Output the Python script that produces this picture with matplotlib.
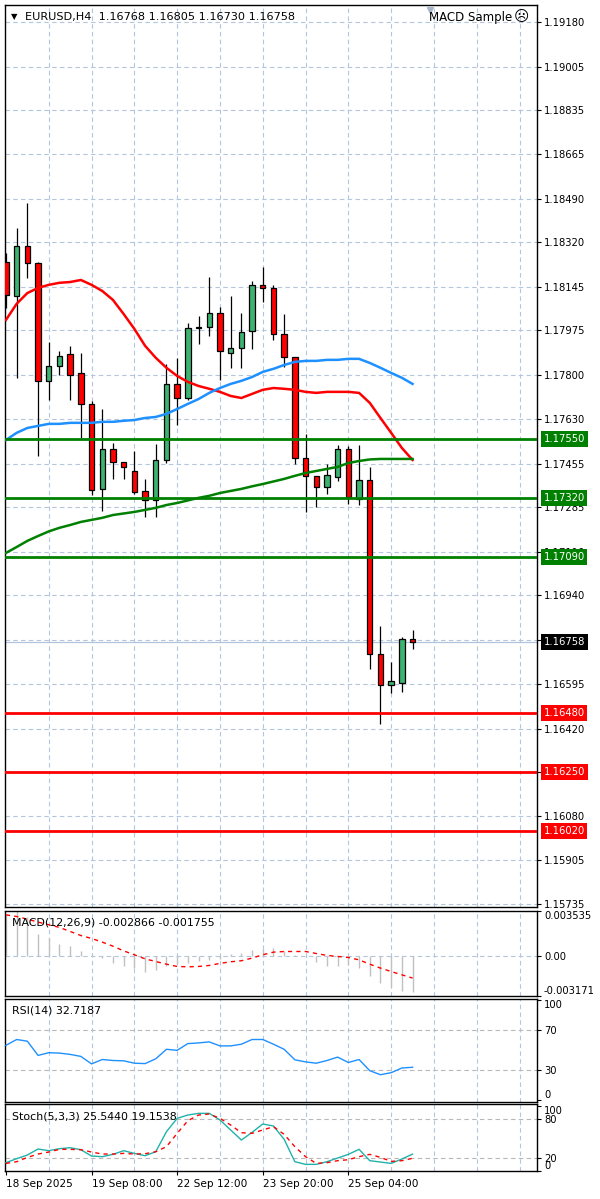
import numpy as np
import matplotlib.pyplot as plt
import matplotlib.transforms as mtransforms

plt.rcParams['font.family'] = ['DejaVu Sans']

# ---- data ----
opens = [1.18243, 1.18110, 1.18305, 1.18239, 1.17778, 1.17836, 1.17883, 1.17809, 1.17688, 1.17356,
         1.17512, 1.17461, 1.17426, 1.17348, 1.17313, 1.17469, 1.17766, 1.17711, 1.17985, 1.17989,
         1.18043, 1.17887, 1.17907, 1.17973, 1.18153, 1.18141, 1.17961, 1.17872, 1.17477, 1.17407,
         1.17364, 1.17403, 1.17512, 1.17317, 1.17391, 1.16711, 1.16590, 1.16598, 1.16768]
highs = [1.18278, 1.18375, 1.18473, 1.18243, 1.17930, 1.17895, 1.17915, 1.17887, 1.17700, 1.17668,
         1.17536, 1.17461, 1.17504, 1.17395, 1.17532, 1.17844, 1.17868, 1.18004, 1.18032, 1.18184,
         1.18067, 1.18110, 1.18043, 1.18168, 1.18223, 1.18153, 1.18039, 1.17872, 1.17571, 1.17407,
         1.17454, 1.17528, 1.17524, 1.17528, 1.17442, 1.16821, 1.16680, 1.16778, 1.16805]
lows = [1.18063, 1.17790, 1.18180, 1.17485, 1.17704, 1.17801, 1.17704, 1.17555, 1.17333, 1.17270,
        1.17395, 1.17395, 1.17336, 1.17247, 1.17247, 1.17457, 1.17606, 1.17704, 1.17922, 1.17954,
        1.17782, 1.17829, 1.17829, 1.17903, 1.18086, 1.17938, 1.17832, 1.17454, 1.17266, 1.17286,
        1.17336, 1.17387, 1.17297, 1.17293, 1.16653, 1.16438, 1.16559, 1.16563, 1.16730]
closes = [1.18114, 1.18305, 1.18239, 1.17778, 1.17836, 1.17875, 1.17801, 1.17688, 1.17352, 1.17512,
          1.17461, 1.17442, 1.17344, 1.17313, 1.17469, 1.17766, 1.17711, 1.17985, 1.17989, 1.18043,
          1.17895, 1.17907, 1.17969, 1.18153, 1.18141, 1.17961, 1.17872, 1.17477, 1.17407, 1.17364,
          1.17411, 1.17512, 1.17325, 1.17391, 1.16711, 1.16590, 1.16606, 1.16770, 1.16758]

ma_red = [1.18016, 1.18079, 1.18121, 1.18141, 1.18153, 1.18161, 1.18164, 1.18172, 1.18153, 1.18129,
          1.18094, 1.18039, 1.17981, 1.17915, 1.17868, 1.17829, 1.17797, 1.17774, 1.17758, 1.17747,
          1.17735, 1.17719, 1.17711, 1.17727, 1.17743, 1.17750, 1.17747, 1.17743, 1.17735, 1.17731,
          1.17735, 1.17735, 1.17735, 1.17731, 1.17692, 1.17633, 1.17575, 1.17516, 1.17469]
ma_blue = [1.17547, 1.17575, 1.17594, 1.17602, 1.17610, 1.17610, 1.17614, 1.17614, 1.17614, 1.17618,
           1.17618, 1.17622, 1.17625, 1.17633, 1.17637, 1.17649, 1.17668, 1.17688, 1.17707, 1.17731,
           1.17750, 1.17766, 1.17778, 1.17793, 1.17813, 1.17825, 1.17840, 1.17852, 1.17856, 1.17856,
           1.17860, 1.17860, 1.17864, 1.17864, 1.17848, 1.17829, 1.17809, 1.17790, 1.17766]
ma_green = [1.17106, 1.17129, 1.17153, 1.17172, 1.17190, 1.17204, 1.17215, 1.17227, 1.17235, 1.17243,
            1.17254, 1.17260, 1.17266, 1.17274, 1.17282, 1.17293, 1.17301, 1.17311, 1.17321, 1.17329,
            1.17340, 1.17348, 1.17356, 1.17366, 1.17375, 1.17385, 1.17395, 1.17407, 1.17418, 1.17426,
            1.17434, 1.17442, 1.17457, 1.17465, 1.17471, 1.17473, 1.17473, 1.17473, 1.17473]

levels_green = [1.17550, 1.17320, 1.17090]
levels_red = [1.16480, 1.16250, 1.16020]
last_price = 1.16758

price_ticks = [1.19180, 1.19005, 1.18835, 1.18665, 1.18490, 1.18320, 1.18145, 1.17975, 1.17800,
               1.17630, 1.17455, 1.17285, 1.17110, 1.16940, 1.16765, 1.16595, 1.16420, 1.16250,
               1.16080, 1.15905, 1.15735]

macd_main = [0.00323, 0.00350, 0.00310, 0.00171, 0.00139, 0.00092, 0.00074, 0.00034, 0.00008, -0.00018,
             -0.00058, -0.00084, -0.00097, -0.00124, -0.00110, -0.00084, -0.00066, -0.00058, -0.00039, -0.00032,
             -0.00024, 0.00013, 0.00021, 0.00047, 0.00053, 0.00060, 0.00039, 0.00008, -0.00013, -0.00050,
             -0.00084, -0.00084, -0.00071, -0.00097, -0.00163, -0.00216, -0.00250, -0.00275, -0.002866]
macd_signal = [0.00323, 0.00310, 0.00289, 0.00266, 0.00245, 0.00224, 0.00192, 0.00160, 0.00137, 0.00108,
               0.00076, 0.00039, 0.00008, -0.00024, -0.00045, -0.00066, -0.00084, -0.00087, -0.00084, -0.00076,
               -0.00060, -0.00047, -0.00039, -0.00018, 0.00008, 0.00029, 0.00034, 0.00034, 0.00034, 0.00018,
               0.00003, -0.00005, -0.00013, -0.00032, -0.00066, -0.00097, -0.00124, -0.00150, -0.001755]

rsi = [54.7, 60.5, 58.8, 44.6, 47.3, 46.9, 45.6, 43.6, 36.1, 40.5,
       39.5, 39.2, 36.8, 36.4, 41.2, 50.7, 49.7, 56.4, 57.1, 58.1,
       54.1, 54.1, 55.8, 60.5, 60.5, 55.8, 50.7, 40.2, 38.1, 36.8,
       39.5, 42.9, 37.5, 40.5, 29.3, 25.3, 27.3, 32.0, 32.7187]

stoch_main = [12.3, 18.5, 24.2, 33.5, 30.9, 34.0, 35.5, 32.4, 22.6, 21.6,
              25.2, 30.9, 26.7, 23.1, 29.3, 60.4, 81.1, 86.2, 88.8, 88.8,
              78.5, 63.0, 47.4, 59.3, 72.3, 69.2, 48.5, 13.8, 9.7, 9.7,
              13.8, 19.5, 25.2, 33.0, 15.4, 13.3, 11.2, 18.0, 25.544]
stoch_signal = [11.2, 13.8, 20.5, 25.7, 28.8, 33.0, 33.0, 32.4, 28.8, 25.7,
                25.7, 26.7, 25.7, 26.2, 29.3, 37.1, 57.8, 77.4, 86.2, 87.8,
                81.1, 70.7, 58.8, 57.8, 63.0, 68.1, 56.2, 37.1, 21.6, 11.2,
                12.3, 15.4, 16.9, 21.6, 25.2, 20.5, 14.3, 15.4, 19.1538]

date_pos = [0, 8, 16, 24, 32]
date_labels = ['18 Sep 2025', '19 Sep 08:00', '22 Sep 12:00', '23 Sep 20:00', '25 Sep 04:00']

# ---- layout ----
W, H = 600, 1199
fig = plt.figure(figsize=(W / 100, H / 100), dpi=100)
fig.patch.set_facecolor('white')

def panel(top, bottom):
    return fig.add_axes([5 / W, 1 - bottom / H, 532 / W, (bottom - top) / H])

ax = panel(5, 907)
ax_macd = panel(911, 996)
ax_rsi = panel(999, 1102)
ax_sto = panel(1104, 1171)

grid_c = '#b4c6dc'
gray_c = '#b8b8b8'
fs = 7.2
fs_lbl = 7.9
x = np.arange(len(opens))
xlim = (-0.09, 49.63)

for a in (ax, ax_macd, ax_rsi, ax_sto):
    a.set_xlim(*xlim)
    a.yaxis.tick_right()
    a.tick_params(axis='y', direction='out', length=3, width=0.8, labelsize=fs, pad=2)
    a.tick_params(axis='x', bottom=False, labelbottom=False)
    for s in a.spines.values():
        s.set_linewidth(1.0)
        s.set_color('black')
    for gx in range(4, 50, 4):
        a.axvline(gx, color=grid_c, lw=0.8, ls=(0, (4, 3)), zorder=0)

# ---- main price chart ----
ax.set_ylim(1.15723, 1.19246)
ax.set_yticks(price_ticks)
ax.set_yticklabels(['%.5f' % p for p in price_ticks])
for p in price_ticks:
    ax.axhline(p, color=grid_c, lw=0.8, ls=(0, (4, 3)), zorder=0)
ax.axhline(last_price, color='#b0c4de', lw=0.9, zorder=1)

o = np.array(opens); c = np.array(closes)
bottoms = np.minimum(o, c)
heights = np.maximum(np.abs(c - o), 0.000015)
colors = ['#3cb371' if cc >= oo else '#ff0000' for oo, cc in zip(o, c)]
ax.vlines(x, lows, highs, color='black', lw=0.9, zorder=3)
ax.bar(x, heights, bottom=bottoms, width=0.5, color=colors, edgecolor='black',
       linewidth=0.9, zorder=4)

ax.plot(x, ma_red, color='#ff0000', lw=1.8, zorder=5)
ax.plot(x, ma_blue, color='#1e90ff', lw=1.8, zorder=5)
ax.plot(x, ma_green, color='#008000', lw=1.8, zorder=5)

for lv in levels_green:
    ax.axhline(lv, color='#008000', lw=2.0, zorder=6)
for lv in levels_red:
    ax.axhline(lv, color='#ff0000', lw=2.0, zorder=6)

tr = mtransforms.blended_transform_factory(ax.transAxes, ax.transData)
def price_box(val, bg):
    ax.text(1.012, val, '%.5f' % val, transform=tr, ha='left', va='center', fontsize=fs,
            color='white', zorder=20, clip_on=False,
            bbox=dict(boxstyle='square,pad=0.28', fc=bg, ec='none'))
for lv in levels_green:
    price_box(lv, '#008000')
for lv in levels_red:
    price_box(lv, '#ff0000')
price_box(last_price, 'black')

fig.text(14 / W, 1 - 17 / H, '\u25bc', fontsize=6, va='center', ha='center', color='black')
fig.text(25 / W, 1 - 17 / H, 'EURUSD,H4  1.16768 1.16805 1.16730 1.16758', fontsize=8.1,
         va='center', ha='left')
fig.text(512 / W, 1 - 17 / H, 'MACD Sample', fontsize=8.5, va='center', ha='right')
fig.text(521 / W, 1 - 17 / H, '\u2639', fontsize=10.5, va='center', ha='center')
ax.plot([(430 - 5) / 532], [0.995], marker='v', ms=5, color='#a9b6c9',
        transform=ax.transAxes, clip_on=False, zorder=10)

# ---- MACD ----
ax_macd.set_ylim(-0.003171, 0.003535)
ax_macd.axhline(0, color=grid_c, lw=0.8, ls=(0, (4, 3)), zorder=0)
ax_macd.vlines(x, 0, macd_main, color='#c0c0c0', lw=1.0, zorder=2)
ax_macd.plot(x, macd_signal, color='#ff0000', lw=1.0, ls=(0, (3, 3)), zorder=3)
ax_macd.set_yticks([0.003535, 0.0, -0.003171])
ax_macd.set_yticklabels(['0.003535', '0.00', '-0.003171'])
lbl = ax_macd.get_yticklabels()
lbl[0].set_va('top'); lbl[2].set_va('bottom')
ax_macd.text(7 / 532, 0.87, 'MACD(12,26,9) -0.002866 -0.001755', transform=ax_macd.transAxes,
             fontsize=fs_lbl, va='center', ha='left', zorder=10)

# ---- RSI ----
ax_rsi.set_ylim(-2, 101)
for lv in (70, 30):
    ax_rsi.axhline(lv, color=gray_c, lw=0.8, ls=(0, (4, 3)), zorder=0)
ax_rsi.plot(x, rsi, color='#1e90ff', lw=1.0, zorder=3)
ax_rsi.set_yticks([100, 70, 30, 0])
ax_rsi.set_yticklabels(['100', '70', '30', '0'])
lbl = ax_rsi.get_yticklabels()
lbl[0].set_va('top'); lbl[3].set_va('bottom')
ax_rsi.text(7 / 532, 0.89, 'RSI(14) 32.7187', transform=ax_rsi.transAxes,
            fontsize=fs_lbl, va='center', ha='left', zorder=10)

# ---- Stochastic ----
ax_sto.set_ylim(-0.6, 103.3)
for lv in (80, 20):
    ax_sto.axhline(lv, color=gray_c, lw=0.8, ls=(0, (4, 3)), zorder=0)
ax_sto.plot(x, stoch_main, color='#20b2aa', lw=1.0, zorder=3)
ax_sto.plot(x, stoch_signal, color='#ff0000', lw=1.0, ls=(0, (3, 3)), zorder=3)
ax_sto.set_yticks([100, 80, 20, 0])
ax_sto.set_yticklabels(['100', '80', '20', '0'])
lbl = ax_sto.get_yticklabels()
lbl[0].set_va('top'); lbl[3].set_va('bottom')
ax_sto.text(7 / 532, 0.82, 'Stoch(5,3,3) 25.5440 19.1538', transform=ax_sto.transAxes,
            fontsize=fs_lbl, va='center', ha='left', zorder=10)

ax_sto.tick_params(axis='x', bottom=True, labelbottom=True, direction='out', length=3,
                   width=0.8, labelsize=7.6, pad=3)
ax_sto.set_xticks(date_pos)
ax_sto.set_xticklabels(date_labels)
for t in ax_sto.get_xticklabels():
    t.set_ha('left')

fig.savefig('out.png', dpi=100, facecolor='white')
